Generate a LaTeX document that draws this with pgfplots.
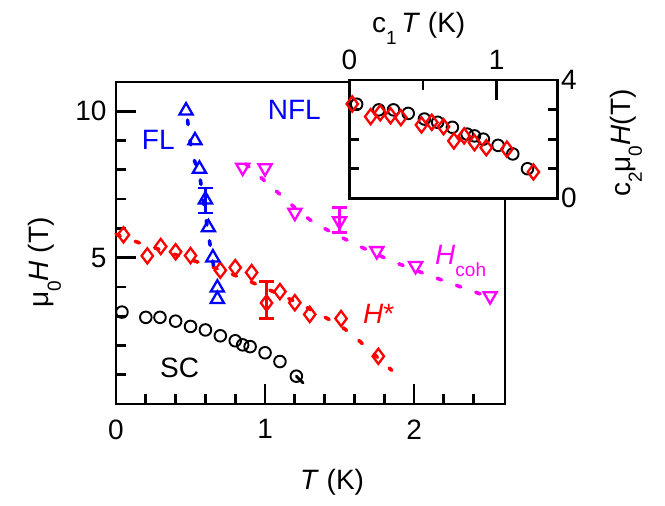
\documentclass[border=0pt]{standalone}
\usepackage{pgfplots}
\pgfplotsset{compat=1.18}
\usepackage{fontspec}
\setmainfont{Liberation Sans}
\newcommand{\fs}{\fontsize{28}{32}\selectfont}
\newcommand{\lo}[1]{\raisebox{-0.42em}{\fontsize{19}{20}\selectfont #1}}
\definecolor{mag}{RGB}{255,0,255}
\pgfplotsset{
  myaxis/.style={
    scale only axis,
    axis line style={line width=2.8pt},
    tick style={line width=2.8pt, black},
    tick align=inside,
    major tick length=20pt,
    minor tick length=10pt,
    tick label style={font=\fs},
    /pgf/number format/assume math mode=true,
    clip=false,
  },
  dashl/.style={line width=3.6pt, dash pattern=on 4.5pt off 16pt, line cap=round, smooth},
  circ/.style={only marks, black, mark=o, mark size=5.8pt, mark options={line width=1.9pt}},
  diam/.style={only marks, red, mark=diamond, mark size=7.6pt, mark options={line width=2.3pt}},
  tri/.style={only marks, mark=triangle, mark size=7.6pt, mark options={line width=2.3pt}},
  itri/.style={only marks, mark=triangle, mark size=7.6pt, mark options={line width=2.3pt, rotate=180}},
  eb/.style={error bars/.cd, y dir=both, y explicit, error bar style={line width=2.3pt},
    error mark options={rotate=90, mark size=7.5pt, line width=2.3pt}},
}
\begin{document}
\begin{tikzpicture}
\useasboundingbox (-116pt,-102pt) rectangle (549pt,404pt);
\begin{axis}[myaxis,
  at={(0pt,0pt)}, anchor=south west,
  width=389pt, height=322pt,
  xmin=0, xmax=2.61, ymin=0, ymax=11,
  xtick={0,1,2}, minor xtick={0.2,0.4,0.6,0.8,1.2,1.4,1.6,1.8,2.2,2.4},
  ytick={5,10}, minor ytick={1,2,3,4,6,7,8,9},
  xtick pos=bottom, ytick pos=left,
  xticklabel style={yshift=-12pt},
  yticklabel style={xshift=-6pt},
]
% fit lines
\addplot[red, dashl] coordinates {(0.0,5.8) (0.16,5.5) (0.56,4.83) (0.84,4.31) (1.2,3.5) (1.47,2.77) (1.60,2.3) (1.85,1.15)};
\addplot[mag, dashl] coordinates {(0.87,8.2) (1.03,7.48) (1.30,6.3) (1.59,5.5) (1.85,4.89) (2.13,4.34) (2.40,3.84) (2.52,3.62)};
\addplot[blue, dashl] coordinates {(0.48,9.7) (0.51,8.6) (0.56,7.8) (0.59,6.8) (0.62,5.8) (0.665,4.4)};
\addplot[black, line width=2.8pt, line cap=round] coordinates {(1.21,0.95) (1.255,0.72)};
% SC
\addplot[circ] coordinates {
(0.04,3.14) (0.20,2.96) (0.295,2.96) (0.40,2.83) (0.50,2.65) (0.60,2.53) (0.70,2.33) (0.80,2.16) (0.85,2.02) (0.90,1.96) (1.00,1.75) (1.10,1.45) (1.21,0.95)};
% H*
\addplot[diam] coordinates {
(0.05,5.78) (0.21,5.06) (0.30,5.38) (0.40,5.20) (0.50,5.07) (0.70,4.57) (0.80,4.66) (0.91,4.49) (1.10,3.84) (1.20,3.46) (1.30,3.06) (1.51,2.92) (1.76,1.63)};
\addplot[diam, red, eb] coordinates {(1.01,3.45) += (0,0.73) -= (0,0.53)};
% FL
\addplot[tri, blue] coordinates {
(0.47,10.02) (0.53,9.0) (0.56,8.03) (0.62,6.03) (0.65,5.0) (0.68,3.97) (0.68,3.58)};
\addplot[tri, blue, eb] coordinates {(0.60,6.98) += (0,0.40) -= (0,0.45)};
% Hcoh
\addplot[itri, mag] coordinates {
(0.85,8.08) (1.00,8.06) (1.20,6.54) (1.75,5.23) (2.01,4.72) (2.51,3.69)};
\addplot[itri, mag, eb] coordinates {(1.50,6.25) += (0,0.46) -= (0,0.39)};
\end{axis}
\begin{axis}[myaxis,
  at={(233.3pt,205.7pt)}, anchor=south west,
  width=208.4pt, height=118.3pt,
  axis background/.style={fill=white},
  xmin=0, xmax=1.415, ymin=0, ymax=4,
  xtick={0,1}, minor xtick={0.5},
  ytick={0,4}, minor ytick={1,2,3},
  xtick pos=top, xticklabel pos=upper,
  ytick pos=both, yticklabel pos=right,
  xticklabel style={yshift=7pt},
  yticklabel style={xshift=0pt},
]
\addplot[circ] coordinates {
(0.05,3.18) (0.20,2.99) (0.30,2.99) (0.40,2.87) (0.51,2.68) (0.60,2.57) (0.70,2.40) (0.80,2.17) (0.85,2.11) (0.91,2.00) (1.01,1.79) (1.11,1.50) (1.21,1.00)};
\addplot[diam] coordinates {
(0.02,3.19) (0.145,2.76) (0.21,2.89) (0.28,2.79) (0.35,2.73) (0.49,2.48) (0.56,2.57) (0.64,2.42) (0.71,1.94) (0.78,2.11) (0.85,1.88) (0.93,1.71) (1.07,1.66) (1.25,0.89)};
\end{axis}
% labels
\node[anchor=base west, blue, font=\fs, inner sep=0pt] at (25.7pt,254pt) {FL};
\node[anchor=base west, blue, font=\fs, inner sep=0pt] at (151.7pt,284.7pt) {NFL};
\node[anchor=base west, black, font=\fs, inner sep=0pt] at (44pt,26pt) {SC};
\node[anchor=base west, red, font=\fs, inner sep=0pt] at (247pt,80pt) {\textit{H}*};
\node[anchor=base west, mag, font=\fs, inner sep=0pt] at (319pt,139pt) {\textit{H}\lo{coh}};
\node[anchor=base west, font=\fs, inner sep=0pt] at (184pt,-86pt) {\textit{T} (K)};
\node[anchor=base west, rotate=90, font=\fs, inner sep=0pt] at (-67pt,96pt) {μ\lo{0}\textit{H} (T)};
\node[anchor=base west, font=\fs, inner sep=0pt] at (256pt,371pt) {c\lo{1}\,\textit{T} (K)};
\node[anchor=base west, rotate=90, font=\fs, inner sep=0pt] at (514pt,207pt) {c\lo{2}μ\lo{0}\textit{H}(T)};
\end{tikzpicture}
\end{document}
